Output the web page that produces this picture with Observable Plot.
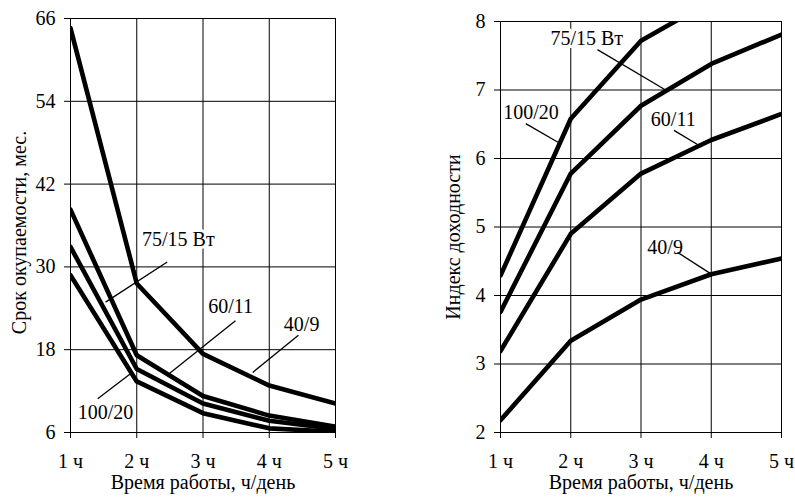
<!DOCTYPE html>
<html>
<head>
<meta charset="utf-8">
<script src="https://cdn.jsdelivr.net/npm/d3@7"></script>
<script src="https://cdn.jsdelivr.net/npm/@observablehq/plot@0.6"></script>
<style>
  html, body { margin: 0; padding: 0; background: #fff; }
  #wrap { display: flex; width: 795px; height: 500px; }
  svg, svg text { font-family: 'Liberation Serif', 'Times New Roman', serif !important; }
</style>
</head>
<body>
<div id="wrap"><div id="left"></div><div id="right"></div></div>
<script>
// ---- data ----
const hours = [1, 2, 3, 4, 5];
const hourLabels = ["1 ч", "2 ч", "3 ч", "4 ч", "5 ч"];
const seriesNames = ["100/20", "75/15", "60/11", "40/9"];

// payback period, months (left panel)
const payback_100_20 = [28.8, 13.4, 8.8, 6.6, 6.1];
const payback_75_15 = [32.9, 15.2, 10.2, 7.7, 6.5];
const payback_60_11 = [38.3, 17.2, 11.3, 8.45, 6.85];
const payback_40_9 = [64.6, 27.6, 17.4, 12.8, 10.2];

// profitability index (right panel)
const index_100_20 = [4.29, 6.58, 7.72, 8.3, 8.8];
const index_75_15 = [3.76, 5.78, 6.77, 7.38, 7.81];
const index_60_11 = [3.19, 4.90, 5.78, 6.27, 6.65];
const index_40_9 = [2.18, 3.34, 3.94, 4.31, 4.54];

const leftTicks = [6, 18, 30, 42, 54, 66];
const rightTicks = [2, 3, 4, 5, 6, 7, 8];

// annotation labels (data units)
const leftLabels = [
  {text: "75/15 Вт", x: 2.08, y: 33.9, x1: 2.46, y1: 30.7, x2: 1.53, y2: 24.9},
  {text: "60/11", x: 3.08, y: 24.3, x1: 3.49, y1: 22.2, x2: 2.46, y2: 14.3},
  {text: "40/9", x: 4.22, y: 21.7, x1: 4.44, y1: 20.1, x2: 3.75, y2: 14.7},
  {text: "100/20", x: 1.11, y: 8.9, x1: 1.41, y1: 10.9, x2: 1.91, y2: 14.55}
];
const rightLabels = [
  {text: "75/15 Вт", x: 1.71, y: 7.75, x1: 2.38, y1: 7.59, x2: 3.35, y2: 7.0},
  {text: "100/20", x: 1.04, y: 6.67, x1: 1.36, y1: 6.51, x2: 1.83, y2: 6.23},
  {text: "60/11", x: 3.14, y: 6.57, x1: 3.47, y1: 6.41, x2: 3.81, y2: 6.20},
  {text: "40/9", x: 3.09, y: 4.70, x1: 3.52, y1: 4.63, x2: 3.99, y2: 4.32}
];

function toRows(arrs) {
  const rows = [];
  arrs.forEach((vals, i) => vals.forEach((v, j) => rows.push({s: seriesNames[i], h: hours[j], v})));
  return rows;
}
const leftRows = toRows([payback_100_20, payback_75_15, payback_60_11, payback_40_9]);
const rightRows = toRows([index_100_20, index_75_15, index_60_11, index_40_9]);

const FONT = "'Liberation Serif', 'Times New Roman', serif";
const FS = 20;

function panel({width, marginLeft, marginRight, marginTop, marginBottom, yDomain, yTicks, rows, labels, yTitle, yTitleDx, yTitleDy}) {
  return Plot.plot({
    width, height: 500, marginLeft, marginRight, marginTop, marginBottom,
    style: {fontFamily: FONT, fontSize: FS + "px", color: "black", background: "white"},
    x: {domain: [1, 5]},
    y: {domain: yDomain},
    marks: [
      Plot.gridX(hours, {stroke: "black", strokeOpacity: 1, strokeWidth: 1}),
      Plot.gridY(yTicks, {stroke: "black", strokeOpacity: 1, strokeWidth: 1}),
      Plot.axisX(hours, {tickSize: 6, tickPadding: 15, tickFormat: (d) => hourLabels[hours.indexOf(d)], label: null, fontSize: FS}),
      Plot.axisY(yTicks, {tickSize: 6, tickPadding: 9, tickFormat: (d) => String(d), label: null, fontSize: FS}),
      Plot.lineY(rows, {x: "h", y: "v", z: "s", stroke: "black", strokeWidth: 4.6, clip: true}),
      Plot.text(labels, {x: "x", y: "y", text: "text", textAnchor: "start", lineAnchor: "middle", fontSize: FS, fill: "black", stroke: "white", strokeWidth: 6}),
      Plot.link(labels, {x1: "x1", y1: "y1", x2: "x2", y2: "y2", stroke: "black", strokeWidth: 1.3}),
      Plot.text(["Время работы, ч/день"], {frameAnchor: "bottom", dy: 50, textAnchor: "middle", lineAnchor: "middle", fontSize: FS}),
      Plot.text([yTitle], {frameAnchor: "left", dx: yTitleDx, dy: yTitleDy, rotate: -90, textAnchor: "middle", lineAnchor: "middle", fontSize: FS})
    ]
  });
}

document.getElementById("left").append(panel({
  width: 400, marginLeft: 70, marginRight: 65, marginTop: 18, marginBottom: 68,
  yDomain: [6, 66], yTicks: leftTicks, rows: leftRows, labels: leftLabels,
  yTitle: "Срок окупаемости, мес.", yTitleDx: -51, yTitleDy: 7
}));
document.getElementById("right").append(panel({
  width: 395, marginLeft: 100, marginRight: 14, marginTop: 21, marginBottom: 68,
  yDomain: [2, 8], yTicks: rightTicks, rows: rightRows, labels: rightLabels,
  yTitle: "Индекс доходности", yTitleDx: -47, yTitleDy: 10
}));
</script>
</body>
</html>
